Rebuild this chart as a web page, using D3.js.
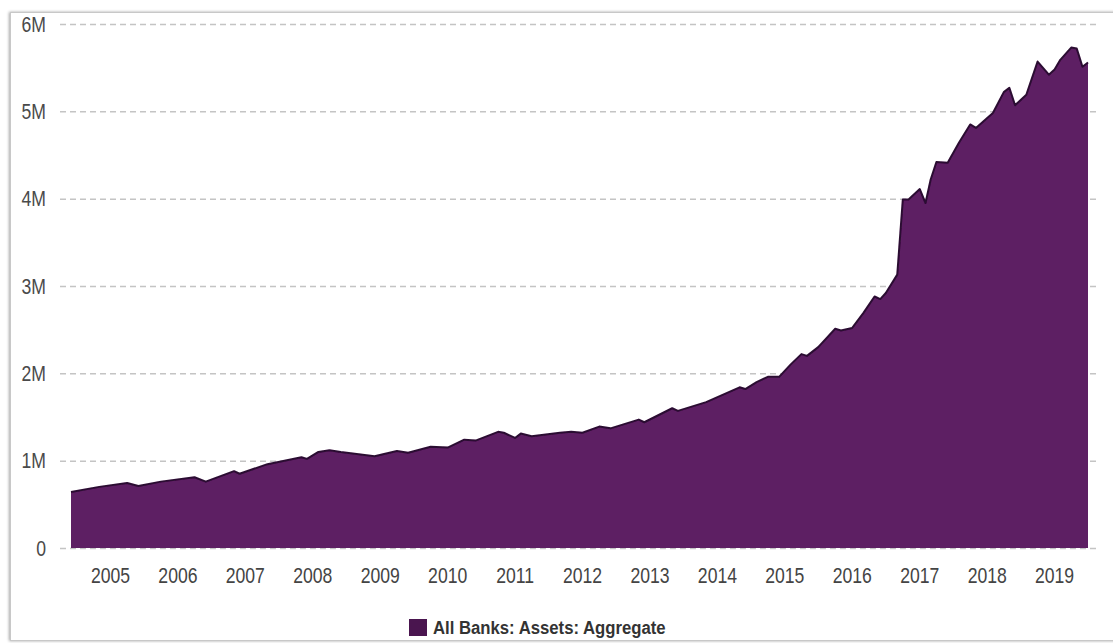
<!DOCTYPE html>
<html>
<head>
<meta charset="utf-8">
<script src="https://cdn.jsdelivr.net/npm/d3@7"></script>
<style>
    body { margin: 0; background: #fff; }
    text { font-family: "Liberation Sans", Arial, sans-serif; }
</style>
</head>
<body>
<div id="chart"></div>
<script>
// monthly points, values in millions
const dates = [
    "2004-06", "2004-11", "2005-04", "2005-06", "2005-10", "2006-04", "2006-06", "2006-11",
    "2006-12", "2007-05", "2007-11", "2007-12", "2008-02", "2008-04", "2008-06", "2008-12",
    "2009-04", "2009-06", "2009-10", "2010-01", "2010-04", "2010-06", "2010-10", "2010-11",
    "2011-01", "2011-02", "2011-04", "2011-09", "2011-11", "2012-01", "2012-04", "2012-06",
    "2012-11", "2012-12", "2013-05", "2013-06", "2013-11", "2014-05", "2014-06", "2014-08",
    "2014-10", "2014-12", "2015-02", "2015-04", "2015-05", "2015-07", "2015-10", "2015-11",
    "2016-01", "2016-03", "2016-05", "2016-06", "2016-07", "2016-09", "2016-10", "2016-11",
    "2017-01", "2017-02", "2017-03", "2017-04", "2017-06", "2017-08", "2017-10", "2017-11",
    "2018-02", "2018-04", "2018-05", "2018-06", "2018-08", "2018-10", "2018-12", "2019-01",
    "2019-02", "2019-04", "2019-05", "2019-06", "2019-07"
];
const assets = [
    0.64, 0.70, 0.745, 0.71, 0.76, 0.81, 0.76, 0.88,
    0.85, 0.96, 1.04, 1.02, 1.10, 1.12, 1.10, 1.05,
    1.11, 1.09, 1.16, 1.15, 1.24, 1.23, 1.33, 1.32,
    1.26, 1.31, 1.28, 1.32, 1.33, 1.32, 1.39, 1.37,
    1.47, 1.44, 1.60, 1.57, 1.67, 1.84, 1.82, 1.90,
    1.96, 1.96, 2.10, 2.22, 2.20, 2.30, 2.51, 2.49,
    2.52, 2.69, 2.88, 2.85, 2.92, 3.13, 3.99, 3.99,
    4.11, 3.95, 4.22, 4.42, 4.41, 4.64, 4.85, 4.81,
    4.98, 5.22, 5.27, 5.07, 5.19, 5.57, 5.42, 5.48,
    5.59, 5.73, 5.72, 5.51, 5.56
];
const yTicks = [0, 1, 2, 3, 4, 5, 6];
const yTickLabels = ["0", "1M", "2M", "3M", "4M", "5M", "6M"];
const years = d3.range(2005, 2020);
const seriesName = "All Banks: Assets: Aggregate";

const width = 1113;
const height = 643;
const fill = "#5d1f63";
// no narrow font installed, so squeeze the text horizontally
const narrow = 0.8;

const parse = d3.timeParse("%Y-%m");
const data = dates.map((d, i) => ({ date: parse(d), value: assets[i] }));

const svg = d3.select("#chart")
    .append("svg")
    .attr("width", width)
    .attr("height", height);

// frame with a soft shadow on the left
const defs = svg.append("defs");
const shadow = defs.append("filter").attr("id", "shadow")
    .attr("x", "-5%").attr("y", "-5%").attr("width", "110%").attr("height", "110%");
shadow.append("feDropShadow")
    .attr("dx", -1).attr("dy", 0).attr("stdDeviation", 1.5)
    .attr("flood-color", "#000").attr("flood-opacity", 0.35);

const blur = defs.append("filter").attr("id", "soft");
blur.append("feGaussianBlur").attr("stdDeviation", 0.6);

svg.append("rect")
    .attr("x", 10.5).attr("y", 12.5)
    .attr("width", width + 20).attr("height", 628)
    .attr("fill", "#fff")
    .attr("stroke", "#c8c8c8")
    .attr("filter", "url(#shadow)");

const x = d3.scaleTime(d3.extent(data, d => d.date), [71, 1088]);
const y = d3.scaleLinear([0, 6], [548, 24]);

// dashed grid lines
svg.append("g")
    .selectAll("line")
    .data(yTicks)
    .join("line")
    .attr("x1", 60)
    .attr("x2", 1100)
    .attr("y1", d => y(d) + 0.5)
    .attr("y2", d => y(d) + 0.5)
    .attr("stroke", "#c4c4c4")
    .attr("stroke-width", 1.5)
    .attr("stroke-dasharray", "6,4");

const area = d3.area()
    .x(d => x(d.date))
    .y0(y(0))
    .y1(d => y(d.value));

const line = d3.line()
    .x(d => x(d.date))
    .y(d => y(d.value));

svg.append("path")
    .datum(data)
    .attr("d", area)
    .attr("fill", fill);

svg.append("path")
    .datum(data)
    .attr("d", line)
    .attr("fill", "none")
    .attr("stroke", "#2c0a32")
    .attr("stroke-width", 2)
    .attr("stroke-linejoin", "round")
    .attr("filter", "url(#soft)");

// y labels
svg.append("g")
    .selectAll("text")
    .data(yTicks)
    .join("text")
    .attr("transform", d => `translate(46,${y(d)}) scale(${narrow},1)`)
    .attr("dy", "0.35em")
    .attr("text-anchor", "end")
    .attr("font-size", 22)
    .attr("fill", "#4a4a4a")
    .text((d, i) => yTickLabels[i]);

// x labels
svg.append("g")
    .selectAll("text")
    .data(years)
    .join("text")
    .attr("transform", d => `translate(${x(new Date(d, 0, 1))},583) scale(${narrow},1)`)
    .attr("text-anchor", "middle")
    .attr("font-size", 22)
    .attr("fill", "#444")
    .text(d => d);

// legend
const legend = svg.append("g").attr("transform", "translate(409,619)");
legend.append("rect")
    .attr("width", 18)
    .attr("height", 17)
    .attr("fill", "#4a154f");
legend.append("text")
    .attr("transform", "translate(24,15) scale(0.88,1)")
    .attr("font-size", 19)
    .attr("font-weight", "bold")
    .attr("fill", "#333")
    .text(seriesName);
</script>
</body>
</html>
